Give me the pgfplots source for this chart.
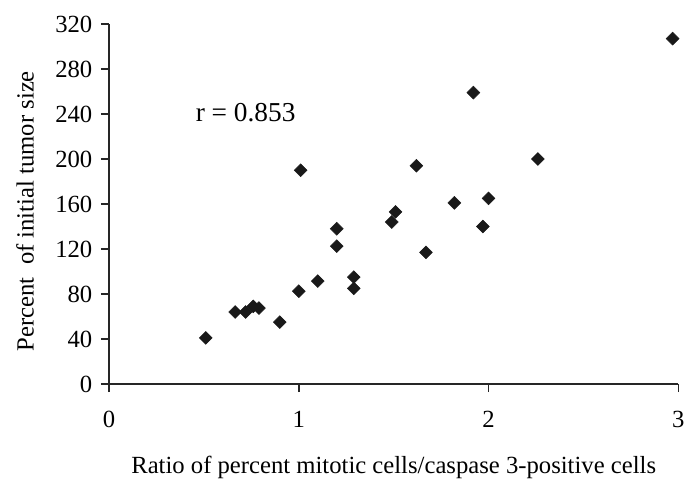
\documentclass[border=0pt]{standalone}
\usepackage{fontspec}
\setmainfont{Liberation Serif}
\usepackage{pgfplots}
\pgfplotsset{compat=1.18}

\begin{document}
\begin{tikzpicture}
\begin{axis}[
  scale only axis,
  width=427pt, height=270pt,
  xmin=0, xmax=3, ymin=0, ymax=320,
  xtick={0,1,2,3}, ytick={0,40,...,320},
  axis x line*=bottom, axis y line*=left,
  axis line style={line width=1.1pt, black!85},
  tick style={line width=1.1pt, black!85},
  tick align=outside, major tick length=6pt,
  /pgf/number format/assume math mode=true,
  tick label style={font=\fontsize{18.5}{22}\selectfont},
  xticklabel style={yshift=-11pt},
  yticklabel style={xshift=-3pt},
  xlabel={Ratio of percent mitotic cells/caspase 3-positive cells},
  ylabel={Percent\ \ of initial tumor size},
  label style={font=\fontsize{18.5}{22}\selectfont},
  xlabel style={at={(axis description cs:0.5,0)}, anchor=base, yshift=-66.75pt},
  ylabel style={at={(axis description cs:-0.1475,0.48)}, anchor=center},
  clip=false,
]
% scatter of tumor size vs mitotic/apoptotic ratio
\addplot[only marks, mark=square*, mark size=3.4pt, black!90,
  mark options={rotate=45}]
  coordinates {
    (0.51, 41) (0.665, 64) (0.72, 64) (0.76, 69) (0.79, 67.5)
    (0.90, 55) (1.00, 82.5) (1.01, 190) (1.10, 91.5) (1.20, 138)
    (1.20, 122.5) (1.29, 95) (1.29, 85) (1.49, 144) (1.51, 153)
    (1.62, 194) (1.67, 117) (1.82, 161) (1.92, 259) (1.97, 140)
    (2.00, 165) (2.26, 200) (2.97, 307)
  };
\node[font=\fontsize{20.5}{24}\selectfont] at (axis cs:0.72,241) {r = 0.853};
\coordinate (o) at (axis cs:0,0);
\end{axis}
\path (o) ++(-81.75pt,-69.75pt) rectangle ++(522pt,357.75pt);
\end{tikzpicture}
\end{document}
